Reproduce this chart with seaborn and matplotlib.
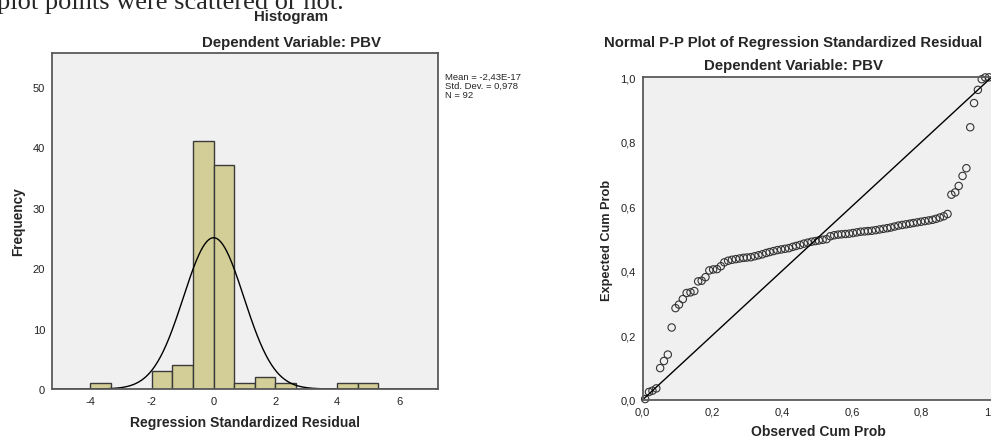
import numpy as np
import pandas as pd
import seaborn as sns
import matplotlib
matplotlib.use("Agg")
import matplotlib.pyplot as plt

# --- data read off the SPSS output ---
# histogram of regression standardized residuals (bin width 2/3)
bin_left = [-4.0, -3.333, -2.667, -2.0, -1.333, -0.667, 0.0,
            0.667, 1.333, 2.0, 2.667, 3.333, 4.0, 4.667]
bin_right_end = 5.333
bin_counts = [1, 0, 0, 3, 4, 41, 37, 1, 2, 1, 0, 0, 1, 1]
resid_mean = -2.43e-17
resid_sd = 0.978
n_obs = 92

hist_xticks = [-4, -2, 0, 2, 4, 6]
hist_yticks = [0, 10, 20, 30, 40, 50]

# normal P-P plot
observed_cum = [
    0.007, 0.018, 0.028, 0.039, 0.050, 0.061, 0.072, 0.083, 0.094, 0.104,
    0.115, 0.126, 0.137, 0.148, 0.159, 0.169, 0.180, 0.191, 0.202, 0.213,
    0.224, 0.234, 0.245, 0.256, 0.267, 0.278, 0.289, 0.299, 0.310, 0.321,
    0.332, 0.343, 0.354, 0.364, 0.375, 0.386, 0.397, 0.408, 0.419, 0.430,
    0.440, 0.451, 0.462, 0.473, 0.484, 0.495, 0.505, 0.516, 0.527, 0.538,
    0.549, 0.560, 0.570, 0.581, 0.592, 0.603, 0.614, 0.625, 0.636, 0.646,
    0.657, 0.668, 0.679, 0.690, 0.701, 0.711, 0.722, 0.733, 0.744, 0.755,
    0.766, 0.776, 0.787, 0.798, 0.809, 0.820, 0.831, 0.841, 0.852, 0.863,
    0.874, 0.885, 0.896, 0.906, 0.917, 0.928, 0.939, 0.950, 0.961, 0.972,
    0.982, 0.993]
expected_cum = [
    0.002, 0.024, 0.028, 0.035, 0.098, 0.120, 0.140, 0.224, 0.284, 0.295,
    0.312, 0.331, 0.333, 0.337, 0.367, 0.369, 0.380, 0.401, 0.404, 0.405,
    0.414, 0.426, 0.431, 0.434, 0.436, 0.438, 0.440, 0.441, 0.442, 0.445,
    0.448, 0.451, 0.455, 0.458, 0.461, 0.464, 0.466, 0.468, 0.470, 0.474,
    0.477, 0.480, 0.484, 0.487, 0.490, 0.492, 0.494, 0.496, 0.498, 0.507,
    0.510, 0.512, 0.513, 0.514, 0.515, 0.517, 0.519, 0.521, 0.522, 0.523,
    0.524, 0.526, 0.528, 0.530, 0.532, 0.534, 0.537, 0.540, 0.542, 0.544,
    0.546, 0.548, 0.550, 0.552, 0.554, 0.556, 0.558, 0.561, 0.565, 0.569,
    0.576, 0.636, 0.643, 0.663, 0.694, 0.718, 0.845, 0.920, 0.961, 0.994,
    0.9995, 0.9999]

pp_ticks = [0.0, 0.2, 0.4, 0.6, 0.8, 1.0]
pp_ticklabels = ["0,0", "0,2", "0,4", "0,6", "0,8", "1,0"]

# --- style ---
sns.set_style("white")
plt.rcParams["font.family"] = ["Liberation Sans", "DejaVu Sans"]
plt.rcParams["axes.unicode_minus"] = False
frame = "#5a5a5a"
panel_bg = "#f0f0f0"

W, H = 991, 439
fig = plt.figure(figsize=(W / 100, H / 100), dpi=100)


def px_axes(left, top, right, bottom):
    return fig.add_axes([left / W, 1 - bottom / H, (right - left) / W, (bottom - top) / H])


def style_axes(ax):
    ax.set_facecolor(panel_bg)
    for s in ax.spines.values():
        s.set_color(frame)
        s.set_linewidth(1.3)
        s.set_visible(True)
    ax.tick_params(direction="out", length=4, width=1, color=frame,
                   labelsize=8, labelcolor="#222222", pad=1)


# leftover sentence of the surrounding document (cut off at the top)
fig.text(-0.003, 1 - 9 / H, "plot points were scattered or not.",
         family="Liberation Serif", fontsize=19, va="baseline", ha="left")

# --- histogram ---
ax1 = px_axes(52, 54, 438, 390)
style_axes(ax1)
hist_df = pd.DataFrame({
    "resid": np.array(bin_left) + 1 / 3,
    "count": bin_counts,
})
sns.histplot(data=hist_df, x="resid", weights="count",
             bins=bin_left + [bin_right_end], color="#d3ce97", alpha=1,
             edgecolor="#3a3a3a", linewidth=1, ax=ax1)

bw = bin_left[1] - bin_left[0]
xs = np.linspace(-5.23, 7.26, 400)
curve = n_obs * bw * np.exp(-0.5 * ((xs - resid_mean) / resid_sd) ** 2) / (resid_sd * np.sqrt(2 * np.pi))
sns.lineplot(x=xs, y=curve, color="black", linewidth=1, ax=ax1)

ax1.set_xlim(-5.23, 7.26)
ax1.set_ylim(0, 55.6)
ax1.set_xticks(hist_xticks)
ax1.set_yticks(hist_yticks)
ax1.set_xlabel("")
ax1.set_ylabel("")

fig.text(291 / W, 1 - 17 / H, "Histogram", fontsize=10.8, fontweight="bold",
         ha="center", va="center")
fig.text(291 / W, 1 - 43 / H, "Dependent Variable: PBV", fontsize=10.8,
         fontweight="bold", ha="center", va="center")
fig.text(18 / W, 1 - 222 / H, "Frequency", fontsize=9.8, fontweight="bold",
         rotation=90, ha="center", va="center")
fig.text(245 / W, 1 - 423 / H, "Regression Standardized Residual", fontsize=10.1,
         fontweight="bold", ha="center", va="center")
stats = "Mean = -2,43E-17\nStd. Dev. = 0,978\nN = 92"
fig.text(445 / W, 1 - 73 / H, stats, fontsize=6.8, ha="left", va="top",
         linespacing=1.0)

# --- normal P-P plot ---
ax2 = px_axes(642.7, 78.3, 991.5, 400.7)
style_axes(ax2)
pp_df = pd.DataFrame({"observed": observed_cum, "expected": expected_cum})
sns.lineplot(x=[0, 1], y=[0, 1], color="black", linewidth=1, ax=ax2)
sns.scatterplot(data=pp_df, x="observed", y="expected", marker="o",
                facecolor="none", edgecolor="#333333", linewidth=0.8,
                s=28, ax=ax2, clip_on=False)
ax2.set_xlim(0, 1)
ax2.set_ylim(0, 1)
ax2.set_xticks(pp_ticks)
ax2.set_xticklabels(pp_ticklabels)
ax2.set_yticks(pp_ticks)
ax2.set_yticklabels(pp_ticklabels)
ax2.set_xlabel("")
ax2.set_ylabel("")

fig.text(793 / W, 1 - 43 / H, "Normal P-P Plot of Regression Standardized Residual",
         fontsize=10.7, fontweight="bold", ha="center", va="center")
fig.text(793 / W, 1 - 66 / H, "Dependent Variable: PBV", fontsize=10.8,
         fontweight="bold", ha="center", va="center")
fig.text(607 / W, 1 - 240 / H, "Expected Cum Prob", fontsize=9.2,
         fontweight="bold", rotation=90, ha="center", va="center")
fig.text(818 / W, 1 - 432 / H, "Observed Cum Prob", fontsize=10,
         fontweight="bold", ha="center", va="center")

fig.savefig("out.png", dpi=100)
